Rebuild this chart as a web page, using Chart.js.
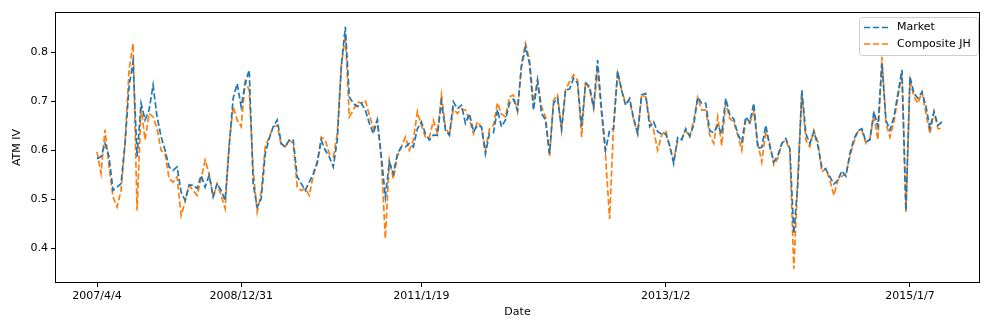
<!DOCTYPE html>
<html>
<head>
<meta charset="utf-8">
<title>ATM IV</title>
<script src="https://cdn.jsdelivr.net/npm/chart.js@4.4.1/dist/chart.umd.min.js"></script>
<style>
  html, body { margin: 0; padding: 0; background: #fff; }
  #chart { display: block; }
</style>
</head>
<body>
<canvas id="chart" width="997" height="332"></canvas>
<script>
// ---- data ----

const tickIdx    = [0, 36, 81, 142, 203];
const tickLabels = ['2007/4/4', '2008/12/31', '2011/1/19', '2013/1/2', '2015/1/7'];

const market = [
  0.583, 0.587, 0.614, 0.587, 0.518, 0.525, 0.532, 0.614, 0.730, 0.781,
  0.587, 0.696, 0.662, 0.682, 0.733, 0.668, 0.628, 0.600, 0.566, 0.559,
  0.566, 0.515, 0.498, 0.529, 0.529, 0.522, 0.549, 0.525, 0.549, 0.505,
  0.532, 0.518, 0.498, 0.607, 0.706, 0.736, 0.689, 0.736, 0.764, 0.532,
  0.484, 0.501, 0.593, 0.624, 0.648, 0.662, 0.614, 0.607, 0.621, 0.621,
  0.546, 0.532, 0.518, 0.535, 0.552, 0.576, 0.621, 0.600, 0.587, 0.566,
  0.621, 0.771, 0.852, 0.709, 0.696, 0.689, 0.696, 0.682, 0.655, 0.634,
  0.662, 0.587, 0.505, 0.576, 0.552, 0.593, 0.607, 0.607, 0.614, 0.607,
  0.644, 0.658, 0.634, 0.621, 0.631, 0.631, 0.699, 0.641, 0.631, 0.699,
  0.685, 0.692, 0.655, 0.675, 0.638, 0.651, 0.648, 0.593, 0.634, 0.636,
  0.683, 0.648, 0.662, 0.696, 0.704, 0.682, 0.771, 0.811, 0.777, 0.682,
  0.743, 0.675, 0.662, 0.593, 0.696, 0.706, 0.644, 0.723, 0.725, 0.747,
  0.737, 0.648, 0.737, 0.730, 0.689, 0.784, 0.682, 0.600, 0.641, 0.644,
  0.762, 0.722, 0.692, 0.706, 0.665, 0.634, 0.713, 0.716, 0.648, 0.658,
  0.638, 0.633, 0.634, 0.610, 0.573, 0.626, 0.621, 0.644, 0.629, 0.651,
  0.708, 0.696, 0.696, 0.640, 0.636, 0.651, 0.634, 0.706, 0.672, 0.664,
  0.633, 0.617, 0.668, 0.657, 0.696, 0.604, 0.606, 0.651, 0.608, 0.576,
  0.589, 0.614, 0.624, 0.604, 0.430, 0.532, 0.723, 0.634, 0.614, 0.638,
  0.610, 0.565, 0.561, 0.546, 0.531, 0.539, 0.558, 0.547, 0.593, 0.623,
  0.640, 0.644, 0.617, 0.621, 0.679, 0.648, 0.777, 0.662, 0.641, 0.668,
  0.716, 0.764, 0.477, 0.750, 0.716, 0.706, 0.719, 0.689, 0.645, 0.679,
  0.651, 0.658
];

const compositeJH = [
  0.597, 0.553, 0.642, 0.566, 0.505, 0.484, 0.518, 0.614, 0.764, 0.818,
  0.477, 0.689, 0.621, 0.675, 0.668, 0.644, 0.600, 0.593, 0.542, 0.535,
  0.546, 0.467, 0.495, 0.529, 0.518, 0.508, 0.542, 0.580, 0.552, 0.505,
  0.532, 0.508, 0.481, 0.614, 0.689, 0.662, 0.648, 0.740, 0.723, 0.559,
  0.474, 0.515, 0.607, 0.627, 0.648, 0.651, 0.610, 0.607, 0.621, 0.614,
  0.525, 0.518, 0.522, 0.508, 0.549, 0.573, 0.627, 0.621, 0.593, 0.587,
  0.634, 0.771, 0.835, 0.668, 0.682, 0.699, 0.696, 0.702, 0.672, 0.644,
  0.662, 0.580, 0.420, 0.580, 0.542, 0.587, 0.607, 0.627, 0.600, 0.621,
  0.679, 0.651, 0.627, 0.626, 0.661, 0.634, 0.713, 0.648, 0.631, 0.685,
  0.675, 0.685, 0.682, 0.662, 0.634, 0.658, 0.648, 0.600, 0.644, 0.651,
  0.697, 0.674, 0.668, 0.709, 0.713, 0.679, 0.777, 0.818, 0.784, 0.699,
  0.743, 0.689, 0.668, 0.587, 0.702, 0.713, 0.641, 0.723, 0.740, 0.754,
  0.743, 0.627, 0.740, 0.724, 0.685, 0.764, 0.675, 0.587, 0.460, 0.655,
  0.757, 0.723, 0.696, 0.701, 0.662, 0.634, 0.713, 0.709, 0.662, 0.641,
  0.600, 0.631, 0.641, 0.607, 0.580, 0.619, 0.624, 0.641, 0.627, 0.662,
  0.708, 0.682, 0.682, 0.631, 0.614, 0.668, 0.610, 0.696, 0.665, 0.658,
  0.631, 0.600, 0.662, 0.655, 0.679, 0.614, 0.576, 0.638, 0.614, 0.570,
  0.583, 0.614, 0.621, 0.600, 0.358, 0.546, 0.716, 0.621, 0.607, 0.641,
  0.617, 0.556, 0.563, 0.539, 0.508, 0.539, 0.547, 0.552, 0.587, 0.617,
  0.638, 0.641, 0.614, 0.624, 0.672, 0.621, 0.791, 0.655, 0.627, 0.658,
  0.709, 0.757, 0.474, 0.743, 0.709, 0.696, 0.719, 0.675, 0.634, 0.679,
  0.644, 0.644
];

const yTicks = [0.4, 0.5, 0.6, 0.7, 0.8];

// ---- chart ----

Chart.defaults.font.family = '"DejaVu Sans", sans-serif';
Chart.defaults.font.size = 11;
Chart.defaults.color = '#000';

const toPoints = arr => arr.map((v, i) => ({ x: i, y: v }));

// box around the plot area (matplotlib style spines)
const frame = {
  id: 'frame',
  afterDatasetsDraw(chart) {
    const { ctx, chartArea: a } = chart;
    ctx.save();
    ctx.strokeStyle = '#000';
    ctx.lineWidth = 1;
    ctx.strokeRect(Math.round(a.left) + 0.5, Math.round(a.top) + 0.5,
                   Math.round(a.right - a.left) - 1, Math.round(a.bottom - a.top) - 1);
    ctx.restore();
  }
};

// legend inside the plot, top right
const innerLegend = {
  id: 'innerLegend',
  afterDraw(chart) {
    const { ctx, chartArea: a } = chart;
    const w = 119, h = 38;
    const x = a.right - 2 - w, y = a.top + 5;
    ctx.save();
    ctx.fillStyle = 'rgba(255,255,255,0.8)';
    ctx.strokeStyle = '#cccccc';
    ctx.lineWidth = 1;
    ctx.beginPath();
    ctx.roundRect(x + 0.5, y + 0.5, w, h, 3);
    ctx.fill();
    ctx.stroke();
    ctx.font = '11px "DejaVu Sans", sans-serif';
    ctx.textBaseline = 'middle';
    chart.data.datasets.forEach((ds, i) => {
      const ly = y + 10.5 + i * 16.5;
      ctx.strokeStyle = ds.borderColor;
      ctx.lineWidth = ds.borderWidth;
      ctx.setLineDash(ds.borderDash);
      ctx.beginPath();
      ctx.moveTo(x + 5, ly);
      ctx.lineTo(x + 29, ly);
      ctx.stroke();
      ctx.setLineDash([]);
      ctx.fillStyle = '#000';
      ctx.fillText(ds.label, x + 38, ly);
    });
    ctx.restore();
  }
};

new Chart(document.getElementById('chart'), {
  type: 'line',
  data: {
    datasets: [
      {
        label: 'Market',
        data: toPoints(market),
        borderColor: '#1f77b4',
        borderWidth: 1.7,
        borderDash: [6.2, 2.7],
        pointRadius: 0,
        tension: 0,
        fill: false,
      },
      {
        label: 'Composite JH',
        data: toPoints(compositeJH),
        borderColor: '#ff7f0e',
        borderWidth: 1.7,
        borderDash: [6.2, 2.7],
        pointRadius: 0,
        tension: 0,
        fill: false,
      }
    ]
  },
  options: {
    responsive: false,
    animation: false,
    devicePixelRatio: 1,
    layout: { padding: { left: 0, top: 12, right: 17, bottom: 0 } },
    plugins: { legend: { display: false }, tooltip: { enabled: false } },
    scales: {
      x: {
        type: 'linear',
        min: -10.49,
        max: 220.49,
        border: { display: false },
        grid: { drawOnChartArea: false, tickLength: 4, color: '#000', lineWidth: 1 },
        afterBuildTicks: s => { s.ticks = tickIdx.map(v => ({ value: v })); },
        afterFit: s => { s.height = 49; },
        ticks: {
          autoSkip: false,
          maxRotation: 0,
          padding: 3,
          callback: v => tickLabels[tickIdx.indexOf(v)],
        },
        title: { display: true, text: 'Date', padding: { top: 0, bottom: 13 } },
      },
      y: {
        min: 0.3292,
        max: 0.8822,
        border: { display: false },
        grid: { drawOnChartArea: false, tickLength: 4, color: '#000', lineWidth: 1 },
        afterBuildTicks: s => { s.ticks = yTicks.map(v => ({ value: v })); },
        afterFit: s => { s.width = 55; },
        ticks: { padding: 3, callback: v => v.toFixed(1) },
        title: { display: true, text: 'ATM IV', padding: { top: 11, bottom: 0 } },
      }
    }
  },
  plugins: [frame, innerLegend]
});
</script>
</body>
</html>
